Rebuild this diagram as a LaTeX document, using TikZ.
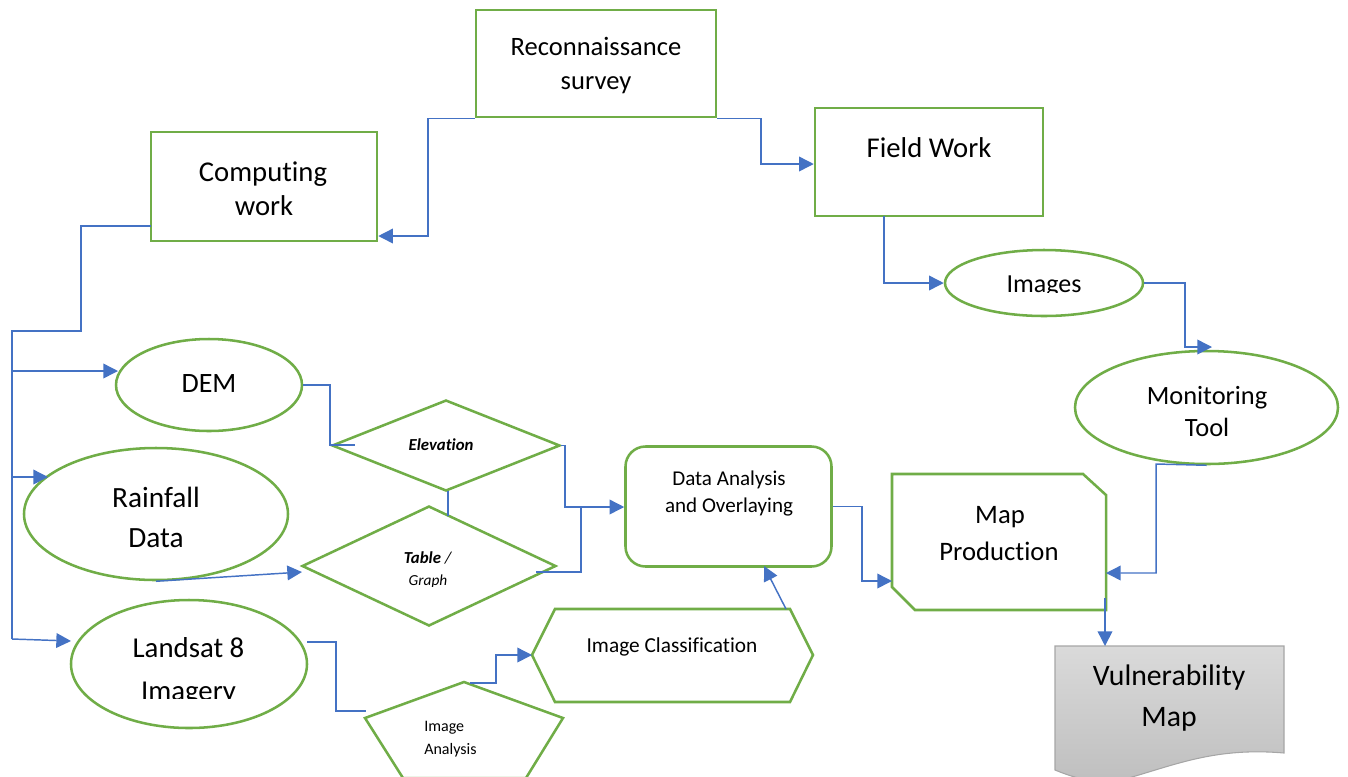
\documentclass[tikz,border=0pt]{standalone}
\usepackage{fontspec}
\setmainfont{Carlito}[Ligatures=CommonOff]
\usetikzlibrary{arrows.meta,shapes.geometric}
\definecolor{grn}{HTML}{70AD47}
\definecolor{blu}{HTML}{4472C4}
\definecolor{vtop}{HTML}{DADADA}
\definecolor{vbot}{HTML}{BEBEBE}
\definecolor{vbrd}{HTML}{A6A6A6}
\tikzset{
 gbox/.style={draw=grn, line width=1.9pt, fill=white, inner sep=0pt},
 rectbox/.style={gbox, rectangle},
 ellbox/.style={gbox, ellipse},
 diabox/.style={gbox, diamond},
 conn/.style={draw=blu, line width=1.1pt, -{Triangle[length=11pt,width=11pt]}},
 plainline/.style={draw=blu, line width=1.1pt},
 lbl/.style={anchor=base, inner sep=0pt, text=black},
 lblw/.style={anchor=base west, inner sep=0pt, text=black},
}
\newcommand{\fs}[1]{\fontsize{#1}{#1}\selectfont}
\begin{document}
\begin{tikzpicture}[x=0.75pt,y=-0.75pt]
\useasboundingbox (0,0) rectangle (1348,776);
\clip (0,0) rectangle (1348,776);

% ---------- shapes ----------
\node[rectbox, minimum width=180pt, minimum height=80.25pt] (recon) at (596,63.5) {};
\node[rectbox, minimum width=169.5pt, minimum height=81.75pt] (comp) at (264,186.5) {};
\node[rectbox, minimum width=171pt, minimum height=81pt] (field) at (929,162) {};
\node[ellbox, minimum width=148.5pt, minimum height=49.5pt] (images) at (1044,283) {};
\node[ellbox, minimum width=197.25pt, minimum height=84.75pt] (monitor) at (1206.5,407.5) {};
\node[ellbox, minimum width=139.5pt, minimum height=69pt] (dem) at (209,385) {};
\node[ellbox, minimum width=198pt, minimum height=99pt] (rain) at (156,514) {};
\node[ellbox, minimum width=177pt, minimum height=96pt] (landsat) at (189,664) {};
\node[diabox, minimum width=171pt, minimum height=68.25pt] (elev) at (446,445.5) {};
\node[diabox, minimum width=190.5pt, minimum height=90pt] (table) at (429,566) {};
\node[gbox, rectangle, rounded corners=15pt, minimum width=154.5pt, minimum height=90pt] (da) at (728.5,506.5) {};

% map production (snipped corners)
\draw[gbox] (892,474) -- (1083,474) -- (1106,495) -- (1106,610) -- (915,610) -- (892,587) -- cycle;
% image classification (hexagon)
\draw[gbox] (532,655) -- (555,609) -- (790,609) -- (813,655) -- (790,702) -- (555,702) -- cycle;
% image analysis (pentagon)
\draw[gbox] (464,682) -- (563,718) -- (526,778) -- (403,778) -- (365,718) -- cycle;
% vulnerability map (document)
\draw[draw=vbrd, line width=0.8pt, top color=vtop, bottom color=vbot]
  (1055,646) -- (1284,646) -- (1284,753)
  .. controls (1215,747) and (1175,765) .. (1125,779)
  .. controls (1095,786) and (1070,776) .. (1055,770) -- cycle;

% ---------- labels ----------
\node[lbl, font=\fs{19.9}] (t-recon1) at (596,55) {Reconnaissance};
\node[lbl, font=\fs{19.9}] (t-recon2) at (596,89) {survey};
\node[lbl, font=\fs{21.5}] (t-comp1) at (263,181) {Computing};
\node[lbl, font=\fs{21.5}] (t-comp2) at (264,215) {work};
\node[lbl, font=\fs{21.5}] (t-field) at (929,157) {Field Work};
\begin{scope}
  \clip (940,250) rectangle (1150,292);
  \node[lbl, font=\fs{19.5}] (t-images) at (1044,292) {Images};
\end{scope}
\node[lbl, font=\fs{19.8}] (t-mon1) at (1207,404) {Monitoring};
\node[lbl, font=\fs{19.8}] (t-mon2) at (1207,436) {Tool};
\node[lbl, font=\fs{21}] (t-dem) at (209,392) {DEM};
\node[lbl, font=\fs{22}] (t-rain1) at (156,507) {Rainfall};
\node[lbl, font=\fs{22}] (t-rain2) at (156,547) {Data};
\node[lbl, font=\fs{21.6}] (t-land1) at (188.5,657) {Landsat 8};
\begin{scope}
  \clip (80,670) rectangle (300,698);
  \node[lbl, font=\fs{21.6}] (t-land2) at (188.5,700) {Imagery};
\end{scope}
\node[lbl, font=\fs{12.6}\bfseries\itshape] (t-elev) at (441,450) {Elevation};
\node[lbl, font=\fs{12.6}] (t-table1) at (428,563) {\textbf{\textit{Table}} \textit{/}};
\begin{scope}
  \clip (380,568) rectangle (480,586);
  \node[lbl, font=\fs{11.5}\itshape] (t-table2) at (428,585) {Graph};
\end{scope}
\node[lbl, font=\fs{15.8}] (t-da1) at (729,485) {Data Analysis};
\node[lbl, font=\fs{15.8}] (t-da2) at (729,512) {and Overlaying};
\node[lbl, font=\fs{20}] (t-mp1) at (1000,523) {Map};
\node[lbl, font=\fs{20}] (t-mp2) at (999,560) {Production};
\node[lbl, font=\fs{22.3}] (t-vul1) at (1169,685) {Vulnerability};
\node[lbl, font=\fs{22.3}] (t-vul2) at (1169,726) {Map};
\node[lbl, font=\fs{16}] (t-ic) at (672,652) {Image Classification};
\node[lblw, font=\fs{12}] (t-ia1) at (424,731) {Image};
\node[lblw, font=\fs{12}] (t-ia2) at (424,754) {Analysis};

% ---------- connectors ----------
\coordinate (c1) at (428,236);
\draw[conn] (recon.south west) -| (c1) -- (c1 -| comp.east);
\coordinate (c2) at (761,164);
\draw[conn] (recon.south east) -| (c2) -- (c2 -| field.west);
\coordinate (c3) at (884,216);
\draw[conn] (c3) |- (images.west);
\coordinate (c4) at (1185,347);
\coordinate (c4e) at (1212,347);
\draw[conn] (images.east) -| (c4) -- (c4e);
\coordinate (c5) at (1156,464);
\coordinate (mpR) at (1106,573);
\draw[conn] (monitor.south) -- (c5) |- (mpR);
\coordinate (mpB) at (1105,598);
\coordinate (vulT) at (1105,646);
\draw[conn] (mpB) -- (vulT);

% bus from computing work
\coordinate (b0) at (151,226);
\coordinate (b1) at (81,331);
\coordinate (b2) at (12,331);
\coordinate (b3) at (12,639);
\draw[plainline] (b0) -| (b1) -- (b2) -- (b3);
\coordinate (bd) at (12,371);
\coordinate (bde) at (118,371);
\draw[conn] (bd) -- (bde);
\coordinate (br) at (12,477);
\coordinate (bre) at (48,477);
\draw[conn] (br) -- (bre);
\coordinate (ble) at (71,641);
\draw[conn] (b3) -- (ble);

% DEM -> Elevation
\coordinate (c8) at (330,445);
\coordinate (c8e) at (355,445);
\draw[plainline] (dem.east) -| (c8) -- (c8e);
% Elevation -> Data Analysis
\coordinate (c9) at (565,507);
\draw[conn] (elev.east) -| (c9) -- (c9 -| da.west);
% Table -> Data Analysis
\coordinate (c10s) at (536,572);
\coordinate (c10) at (581,507);
\draw[plainline] (c10s) -| (c10);
% Elevation -- Table
\coordinate (c10a) at (448,491);
\coordinate (c10b) at (448,516);
\draw[plainline] (c10a) -- (c10b);
% Rainfall -> Table
\coordinate (c11) at (302,572);
\draw[conn] (rain.south) -- (c11);
% Landsat -> Image Analysis
\coordinate (c12a) at (307,642);
\coordinate (c12b) at (336,711);
\coordinate (c12e) at (366,711);
\draw[plainline] (c12a) -| (c12b) -- (c12e);
% Image Analysis -> Image Classification
\coordinate (c13a) at (470,683);
\coordinate (c13b) at (496,655);
\coordinate (c13e) at (532,655);
\draw[conn] (c13a) -| (c13b) -- (c13e);
% Image Classification -> Data Analysis
\coordinate (c14a) at (786,609);
\coordinate (c14e) at (764,566);
\draw[conn] (c14a) -- (c14e);
% Data Analysis -> Map Production
\coordinate (c15) at (862,581);
\coordinate (c15e) at (892,581);
\draw[conn] (da.east) -| (c15) -- (c15e);
\end{tikzpicture}
\end{document}
